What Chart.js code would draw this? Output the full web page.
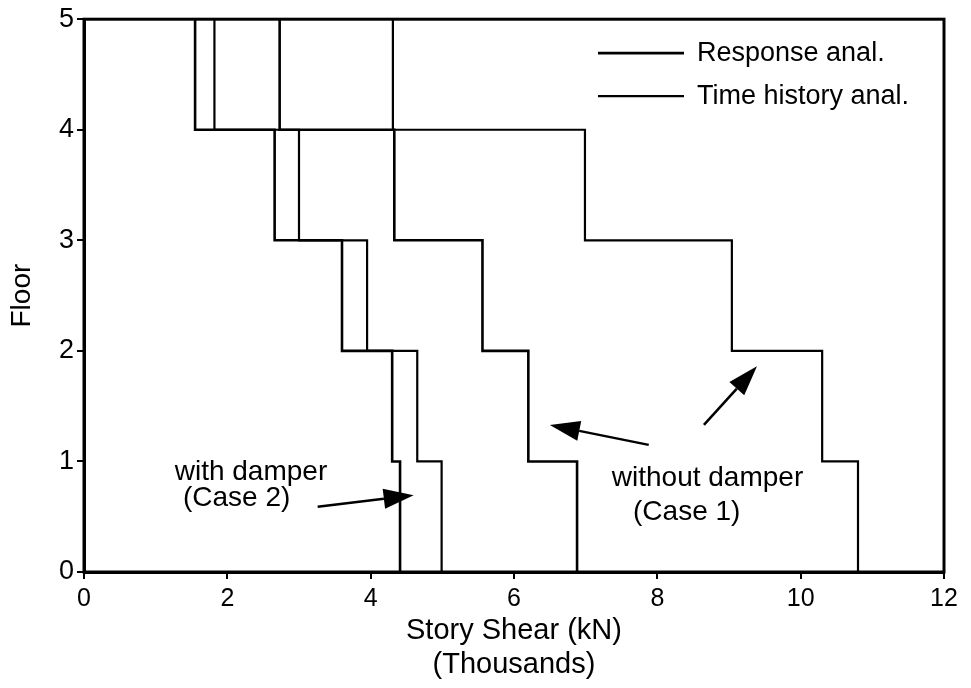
<!DOCTYPE html>
<html>
<head>
<meta charset="utf-8">
<script src="https://cdn.jsdelivr.net/npm/chart.js@4.4.1/dist/chart.umd.min.js"></script>
<style>
  html, body { margin: 0; padding: 0; background: #fff; }
  #wrap { width: 971px; height: 688px; position: relative; }
</style>
</head>
<body>
<div id="wrap"><canvas id="c" width="971" height="688"></canvas></div>
<script>
// ---- Data (story shear in thousands of kN for stories 1..5) ----
const floorLevels = [0, 1, 2, 3, 4, 5];
const xTickValues = [0, 2, 4, 6, 8, 10, 12];
const withDamperResponse     = [4.41, 4.30, 3.60, 2.66, 1.55];
const withDamperTimeHistory  = [4.99, 4.65, 3.95, 3.00, 1.82];
const withoutDamperResponse    = [6.88, 6.20, 5.56, 4.33, 2.73];
const withoutDamperTimeHistory = [10.80, 10.30, 9.04, 6.99, 4.31];
const legendLabels = ['Response anal.', 'Time history anal.'];
const xTitle = ['Story Shear (kN)', '(Thousands)'];
const yTitle = 'Floor';
// annotation texts with data-coordinate anchors
const notes = [
  { text: 'with damper', x: 2.33, y: 0.90 },
  { text: '(Case 2)', x: 2.13, y: 0.665 },
  { text: 'without damper', x: 8.70, y: 0.85 },
  { text: '(Case 1)', x: 8.41, y: 0.54 }
];
const arrows = [
  { from: [3.26, 0.59], to: [4.60, 0.695] },
  { from: [7.88, 1.15], to: [6.50, 1.33] },
  { from: [8.65, 1.33], to: [9.39, 1.86] }
];

const FONT = "'Liberation Sans', Arial, Helvetica, sans-serif";

function stepPoints(values) {
  const pts = [];
  values.forEach((v, i) => {
    pts.push({ x: v, y: floorLevels[i] });
    pts.push({ x: v, y: floorLevels[i + 1] });
  });
  return pts;
}

function lineDataset(label, values, width) {
  return {
    label: label,
    data: stepPoints(values),
    showLine: true,
    borderColor: '#000',
    borderWidth: width,
    pointRadius: 0,
    fill: false,
    tension: 0
  };
}

const framePlugin = {
  id: 'frameAndNotes',
  afterDatasetsDraw(chart) {
    const ctx = chart.ctx;
    const a = chart.chartArea;
    const xs = chart.scales.x, ys = chart.scales.y;
    ctx.save();
    // frame
    ctx.strokeStyle = '#000';
    ctx.lineWidth = 3;
    ctx.strokeRect(a.left, a.top, a.right - a.left, a.bottom - a.top);
    // legend
    ctx.lineWidth = 2.5;
    ctx.font = '27px ' + FONT;
    ctx.fillStyle = '#000';
    ctx.textBaseline = 'middle';
    ctx.textAlign = 'left';
    const ly = [a.top + 34, a.top + 77];
    legendLabels.forEach((lab, i) => {
      ctx.lineWidth = i === 0 ? 2.8 : 2.2;
      ctx.beginPath();
      ctx.moveTo(a.right - 346, ly[i]);
      ctx.lineTo(a.right - 260, ly[i]);
      ctx.stroke();
      ctx.fillText(lab, a.right - 247, ly[i]);
    });
    // notes
    ctx.font = '28px ' + FONT;
    ctx.textAlign = 'center';
    notes.forEach(n => {
      ctx.fillText(n.text, xs.getPixelForValue(n.x), ys.getPixelForValue(n.y));
    });
    // arrows
    arrows.forEach(ar => {
      const x1 = xs.getPixelForValue(ar.from[0]), y1 = ys.getPixelForValue(ar.from[1]);
      const x2 = xs.getPixelForValue(ar.to[0]), y2 = ys.getPixelForValue(ar.to[1]);
      const ang = Math.atan2(y2 - y1, x2 - x1);
      const hl = 30, hw = 10;
      const bx = x2 - hl * Math.cos(ang), by = y2 - hl * Math.sin(ang);
      ctx.lineWidth = 2.5;
      ctx.beginPath();
      ctx.moveTo(x1, y1);
      ctx.lineTo(bx, by);
      ctx.stroke();
      ctx.beginPath();
      ctx.moveTo(x2, y2);
      ctx.lineTo(bx + hw * Math.sin(ang), by - hw * Math.cos(ang));
      ctx.lineTo(bx - hw * Math.sin(ang), by + hw * Math.cos(ang));
      ctx.closePath();
      ctx.fill();
    });
    ctx.restore();
  }
};

new Chart(document.getElementById('c'), {
  type: 'scatter',
  data: {
    datasets: [
      lineDataset('with damper - Response anal.', withDamperResponse, 2.6),
      lineDataset('with damper - Time history anal.', withDamperTimeHistory, 2.2),
      lineDataset('without damper - Response anal.', withoutDamperResponse, 2.6),
      lineDataset('without damper - Time history anal.', withoutDamperTimeHistory, 2.2)
    ]
  },
  options: {
    responsive: false,
    animation: false,
    layout: { padding: { top: 14, right: 27, left: 0, bottom: 0 } },
    plugins: {
      legend: { display: false },
      tooltip: { enabled: false }
    },
    scales: {
      x: {
        type: 'linear',
        min: 0, max: 12,
        afterFit(s) { s.height = 116; },
        afterBuildTicks(s) { s.ticks = xTickValues.map(v => ({ value: v })); },
        grid: { drawOnChartArea: false, drawTicks: true, tickLength: 7, color: '#000', lineWidth: 2 },
        border: { display: true, color: '#000', width: 3 },
        ticks: { color: '#000', font: { family: FONT, size: 25 }, padding: 5, maxRotation: 0 },
        title: {
          display: true, text: xTitle, color: '#000',
          font: { family: FONT, size: 29, lineHeight: 1.17 },
          padding: { top: 0, bottom: 6 }
        }
      },
      y: {
        type: 'linear',
        min: 0, max: 5,
        afterFit(s) { s.width = 84; },
        afterBuildTicks(s) { s.ticks = floorLevels.map(v => ({ value: v })); },
        grid: { drawOnChartArea: false, drawTicks: true, tickLength: 7, color: '#000', lineWidth: 2 },
        border: { display: true, color: '#000', width: 3 },
        ticks: { color: '#000', font: { family: FONT, size: 27 }, padding: 3 },
        title: {
          display: true, text: yTitle, color: '#000',
          font: { family: FONT, size: 28, lineHeight: 1.2 },
          padding: { top: 5, bottom: 0 }
        }
      }
    }
  },
  plugins: [framePlugin]
});
</script>
</body>
</html>
